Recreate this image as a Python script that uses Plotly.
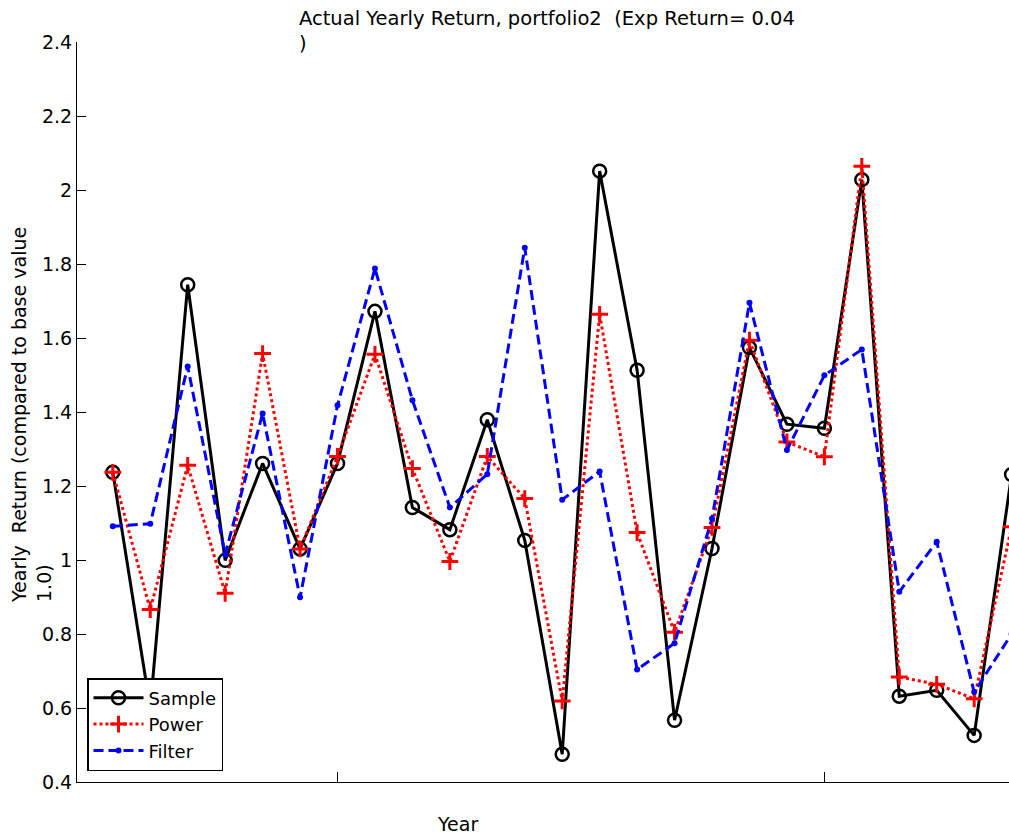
import plotly.graph_objects as go

# Year index for each observation
years = list(range(1, 26))

# Yearly return relative to base value 1.0
sample = [1.237, 0.60, 1.744, 0.999, 1.261, 1.03, 1.261, 1.672, 1.142, 1.082,
          1.379, 1.053, 0.475, 2.051, 1.513, 0.567, 1.031, 1.574, 1.367, 1.356,
          2.028, 0.632, 0.648, 0.526, 1.231]
power = [1.237, 0.866, 1.256, 0.91, 1.558, 1.03, 1.28, 1.556, 1.247, 0.996,
         1.28, 1.166, 0.619, 1.664, 1.074, 0.805, 1.088, 1.594, 1.319, 1.279,
         2.064, 0.684, 0.664, 0.625, 1.09]
filt = [1.091, 1.098, 1.523, 1.015, 1.396, 0.899, 1.418, 1.788, 1.432, 1.142,
        1.232, 1.844, 1.163, 1.239, 0.704, 0.775, 1.112, 1.695, 1.297, 1.499,
        1.569, 0.914, 1.049, 0.643, 0.80]

y_ticks = [0.4, 0.6, 0.8, 1.0, 1.2, 1.4, 1.6, 1.8, 2.0, 2.2, 2.4]
y_tick_text = ["0.4", "0.6", "0.8", "1", "1.2", "1.4", "1.6", "1.8", "2", "2.2", "2.4"]
x_ticks = [7, 20]

FONT = "DejaVu Sans"
W, H = 1009, 840
L, R, T, B = 77, 0, 42, 58
PW, PH = W - L - R, H - T - B


def px_x(p):
    return (p - L) / PW


def px_y(p):
    return (H - B - p) / PH


fig = go.Figure()
fig.add_trace(go.Scatter(
    x=years, y=sample, name="Sample", mode="lines+markers",
    line=dict(color="black", width=3),
    marker=dict(symbol="circle-open", size=13, color="black", line=dict(width=2.5)),
))
fig.add_trace(go.Scatter(
    x=years, y=power, name="Power", mode="lines+markers",
    line=dict(color="red", width=3, dash="3px,3px"),
    marker=dict(symbol="cross-thin", size=12, color="red", line=dict(width=3, color="red")),
))
fig.add_trace(go.Scatter(
    x=years, y=filt, name="Filter", mode="lines+markers",
    line=dict(color="blue", width=3, dash="10px,5px"),
    marker=dict(symbol="circle", size=6, color="blue"),
))

fig.update_layout(
    width=W, height=H,
    margin=dict(l=L, r=R, t=T, b=B, pad=0),
    paper_bgcolor="white", plot_bgcolor="white",
    font=dict(family=FONT, size=19, color="black"),
    showlegend=True,
    legend=dict(
        x=px_x(87), y=px_y(771), xanchor="left", yanchor="bottom",
        bgcolor="white", bordercolor="black", borderwidth=1.5,
        font=dict(family=FONT, size=18, color="black"),
        tracegroupgap=0, itemwidth=50,
    ),
    xaxis=dict(
        range=[0.044, 24.93], showgrid=False, zeroline=False,
        showline=True, linecolor="black", linewidth=1,
        ticks="inside", ticklen=10, tickcolor="black", tickwidth=1,
        tickvals=x_ticks, ticktext=["", ""],
    ),
    yaxis=dict(
        range=[0.4, 2.4], showgrid=False, zeroline=False,
        showline=True, linecolor="black", linewidth=1,
        ticks="inside", ticklen=9, tickcolor="black", tickwidth=1,
        tickvals=y_ticks, ticktext=y_tick_text,
        tickfont=dict(family=FONT, size=19, color="black"),
    ),
    annotations=[
        dict(
            text="Actual Yearly Return, portfolio2 \u00a0(Exp Return= 0.04<br>)",
            xref="paper", yref="paper", x=px_x(297), y=px_y(5),
            xanchor="left", yanchor="top", align="left", showarrow=False,
            font=dict(family=FONT, size=19.5, color="black"),
        ),
        dict(
            text="Year", xref="paper", yref="paper",
            x=px_x(457), y=px_y(824), xanchor="center", yanchor="middle",
            showarrow=False, font=dict(family=FONT, size=19, color="black"),
        ),
        dict(
            text="Yearly \u00a0Return (compared to base value<br>1.0)",
            xref="paper", yref="paper", x=px_x(31), y=px_y(415),
            xanchor="center", yanchor="middle", align="left", textangle=-90,
            showarrow=False, font=dict(family=FONT, size=19, color="black"),
        ),
    ],
)

fig.write_html("out.html")
